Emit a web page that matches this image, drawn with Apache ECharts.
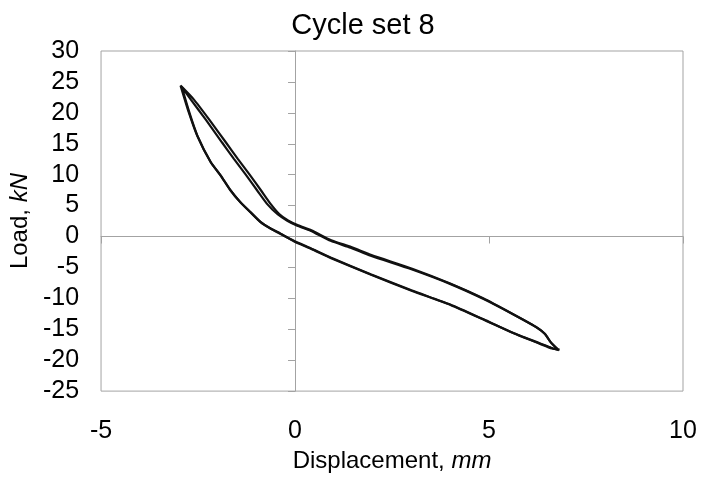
<!DOCTYPE html>
<html>
<head>
<meta charset="utf-8">
<script src="https://cdn.jsdelivr.net/npm/echarts@6/dist/echarts.min.js"></script>
<style>
html,body{margin:0;padding:0;background:#fff;}
#chart{width:702px;height:478px;}
</style>
</head>
<body>
<div id="chart"></div>
<script>
// Axis ticks
var xTicks = [-5, 0, 5, 10];
var yTicks = [-25, -20, -15, -10, -5, 0, 5, 10, 15, 20, 25, 30];

// Cycle 1: displacement (mm) and load (kN), traced from the lower-right tip
var cycle1Disp = [6.78, 6.6, 6.45, 6.23, 5.63, 4.86, 4.01, 3.0, 1.95, 1.43, 0.92, 0.4, 0.06, -0.2,
  -0.45, -0.71, -0.97, -1.27, -1.58, -1.88, -2.30, -2.68, -2.92,
  -2.72, -2.51, -2.17, -1.91, -1.67, -1.40, -1.13, -0.88, -0.62, -0.37, -0.03,
  0.4, 0.92, 1.95, 3.0, 4.0, 4.86, 5.63, 6.32, 6.6, 6.8];
var cycle1Load = [-18.3, -17.2, -15.8, -14.7, -12.6, -10.1, -7.7, -5.3, -3.1, -1.8, -0.7, 0.95, 1.75, 2.56,
  3.6, 5.2, 7.4, 10.0, 12.6, 15.2, 18.9, 22.1, 24.2,
  20.0, 16.2, 12.0, 9.8, 7.55, 5.5, 3.8, 2.3, 1.25, 0.4, -0.7,
  -1.9, -3.4, -6.1, -8.7, -11.0, -13.4, -15.6, -17.3, -18.0, -18.4];

// Cycle 2
var cycle2Disp = [6.8, 6.58, 6.43, 6.2, 5.6, 4.85, 4.0, 3.02, 1.97, 1.45, 0.93, 0.42, 0.08, -0.18,
  -0.4, -0.62, -0.87, -1.17, -1.48, -1.78, -2.21, -2.6, -2.95,
  -2.74, -2.52, -2.18, -1.92, -1.68, -1.42, -1.14, -0.9, -0.63, -0.38, -0.02,
  0.42, 0.93, 1.96, 3.02, 4.02, 4.88, 5.65, 6.33, 6.62, 6.82];
var cycle2Load = [-18.4, -17.0, -15.7, -14.6, -12.5, -10.0, -7.6, -5.2, -3.0, -1.7, -0.6, 1.0, 1.8, 2.6,
  3.6, 5.2, 7.4, 10.0, 12.6, 15.2, 18.9, 22.1, 24.4,
  20.1, 16.3, 12.1, 9.9, 7.6, 5.6, 3.9, 2.4, 1.3, 0.5, -0.8,
  -2.0, -3.5, -6.2, -8.8, -11.1, -13.5, -15.7, -17.4, -18.1, -18.3];

function zip(a, b) { return a.map(function (v, i) { return [v, b[i]]; }); }

var FONT = 'Liberation Sans';
var GRAY = '#a3a3a3';
var chart = echarts.init(document.getElementById('chart'), null, {renderer: 'canvas'});

var baseX = {
  type: 'value', min: xTicks[0], max: xTicks[xTicks.length - 1], interval: xTicks[1] - xTicks[0],
  splitLine: {show: false}
};
var baseY = {
  type: 'value', min: yTicks[0], max: yTicks[yTicks.length - 1], interval: yTicks[1] - yTicks[0],
  splitLine: {show: false}
};

chart.setOption({
  animation: false,
  backgroundColor: '#fff',
  title: {
    text: 'Cycle set 8',
    left: 358, top: 6, textAlign: 'center',
    textStyle: {fontFamily: FONT, fontSize: 29, fontWeight: 'normal', color: '#000'}
  },
  grid: {left: 100, right: 19, top: 51, bottom: 85, show: true, borderColor: GRAY, borderWidth: 1, containLabel: false},
  xAxis: [
    Object.assign({}, baseX, {
      position: 'bottom',
      axisLine: {show: false, onZero: false},
      axisTick: {show: false},
      axisLabel: {margin: 28, fontFamily: FONT, fontSize: 25, color: '#000'},
      name: 'Displacement, {i|mm}',
      nameLocation: 'middle', nameGap: 55,
      nameTextStyle: {fontFamily: FONT, fontSize: 24, color: '#000',
        rich: {i: {fontFamily: FONT, fontSize: 24, fontStyle: 'italic', color: '#000'}}}
    }),
    Object.assign({}, baseX, {
      position: 'bottom',
      axisLine: {show: true, onZero: true, onZeroAxisIndex: 0, lineStyle: {color: GRAY, width: 1}},
      axisTick: {show: true, inside: false, length: 7, lineStyle: {color: GRAY}},
      axisLabel: {show: false}
    })
  ],
  yAxis: [
    Object.assign({}, baseY, {
      position: 'left',
      axisLine: {show: false, onZero: false},
      axisTick: {show: false},
      axisLabel: {margin: 22, fontFamily: FONT, fontSize: 25, color: '#000'},
      name: 'Load, {i|kN}',
      nameLocation: 'middle', nameGap: 61,
      nameTextStyle: {fontFamily: FONT, fontSize: 24, color: '#000',
        rich: {i: {fontFamily: FONT, fontSize: 24, fontStyle: 'italic', color: '#000'}}}
    }),
    Object.assign({}, baseY, {
      position: 'left',
      axisLine: {show: true, onZero: true, onZeroAxisIndex: 0, lineStyle: {color: GRAY, width: 1}},
      axisTick: {show: true, inside: false, length: 7, lineStyle: {color: GRAY}},
      axisLabel: {show: false}
    })
  ],
  series: [
    {
      name: 'Cycle 1', type: 'line', xAxisIndex: 0, yAxisIndex: 0,
      data: zip(cycle1Disp, cycle1Load),
      showSymbol: false, smooth: 0.2, silent: true,
      lineStyle: {color: '#111', width: 2.2}
    },
    {
      name: 'Cycle 2', type: 'line', xAxisIndex: 0, yAxisIndex: 0,
      data: zip(cycle2Disp, cycle2Load),
      showSymbol: false, smooth: 0.2, silent: true,
      lineStyle: {color: '#111', width: 2.2}
    }
  ]
});
</script>
</body>
</html>
